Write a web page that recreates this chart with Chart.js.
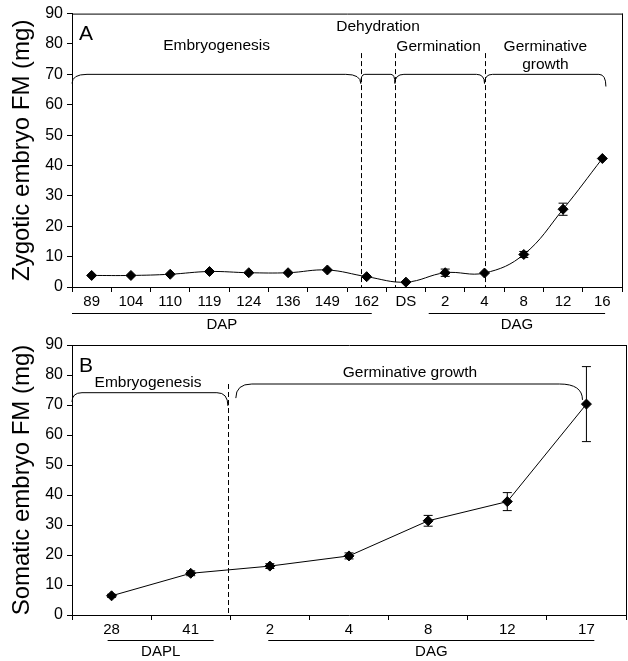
<!DOCTYPE html>
<html>
<head>
<meta charset="utf-8">
<script src="https://cdn.jsdelivr.net/npm/chart.js@4.4.0/dist/chart.umd.min.js"></script>
<style>
    html, body { margin: 0; padding: 0; overflow: hidden; background: #fff; width: 628px; height: 661px; }
    #wrapA { position: absolute; left: 0; top: 0; }
    #wrapB { position: absolute; left: 0; top: 330px; }
</style>
</head>
<body>
<div id="wrapA"><canvas id="chartA" width="628" height="330"></canvas></div>
<div id="wrapB"><canvas id="chartB" width="632" height="331"></canvas></div>
<script>
const FONT = "'Liberation Sans', Arial, sans-serif"

// panel A - zygotic embryos
const labelsA = ['89', '104', '110', '119', '124', '136', '149', '162', 'DS', '2', '4', '8', '12', '16']
const massA = [3.8, 3.8, 4.2, 5.1, 4.7, 4.7, 5.6, 3.4, 1.6, 4.7, 4.6, 10.7, 25.6, 42.3]
const errA = [0, 0, 0, 0, 0, 0, 0, 0, 0, 1.2, 0, 1.0, 2.0, 0]

// panel B - somatic embryos
const labelsB = ['28', '41', '2', '4', '8', '12', '17']
const massB = [6.4, 13.9, 16.3, 19.7, 31.4, 37.8, 70.3]
const errB = [0.5, 0.8, 0.8, 1.0, 1.8, 3.0, 12.5]

const yTicks = [0, 10, 20, 30, 40, 50, 60, 70, 80, 90]

// phase annotations, x in category units (0 = first category), y in mg
const dividersA = [6.85, 7.72, 10]
const dividersB = [1.47]

const bracesA = [
    { from: -0.5, to: 6.85, level: 70, left: 67, right: 67, bend: [15, 15] },
    { from: 6.85, to: 7.72, level: 70, left: 67, right: 67, bend: [4, 4] },
    { from: 7.72, to: 10, level: 70, left: 67, right: 67, bend: [9, 8] },
    { from: 10, to: 13.09, level: 70, left: 67, right: 66, bend: [8, 7] }
]
const bracesB = [
    { from: -0.5, to: 1.47, level: 74.1, left: 71, right: 69.7, bend: [10, 11] },
    { from: 1.57, to: 5.95, level: 77, left: 72.3, right: 71.7, bend: [16, 23] }
]

const phaseTextA = [
    { text: 'Embryogenesis', x: 3.18, y: 79.3 },
    { text: 'Dehydration', x: 7.29, y: 85.8 },
    { text: 'Germination', x: 8.83, y: 79 },
    { text: 'Germinative', x: 11.55, y: 79 },
    { text: 'growth', x: 11.55, y: 73.1 }
]
const phaseTextB = [
    { text: 'Embryogenesis', x: 0.46, y: 77.4 },
    { text: 'Germinative growth', x: 3.77, y: 80.7 }
]

const groupsA = [
    { text: 'DAP', from: -0.5, to: 7.13 },
    { text: 'DAG', from: 8.58, to: 13.07 }
]
const groupsB = [
    { text: 'DAPL', from: -0.05, to: 1.29 },
    { text: 'DAG', from: 1.98, to: 6.1 }
]


function panelPlugin(cfg) {
    return {
        id: 'panel' + cfg.letter,
        beforeDatasetsDraw(chart) {
            const { ctx, chartArea: a, scales: { x, y } } = chart
            ctx.save()
            ctx.strokeStyle = '#000'
            ctx.lineWidth = 1

            // top and right frame
            ctx.beginPath()
            ctx.moveTo(a.left, a.top + 0.5)
            ctx.lineTo(a.right + 1, a.top + 0.5)
            ctx.moveTo(a.right + 0.5, a.top)
            ctx.lineTo(a.right + 0.5, a.bottom)
            ctx.stroke()

            // dashed phase dividers
            ctx.setLineDash([5, 3])
            cfg.dividers.forEach(d => {
                const px = Math.round(x.getPixelForValue(d)) + 0.5
                ctx.beginPath()
                ctx.moveTo(px, y.getPixelForValue(77))
                ctx.lineTo(px, a.bottom)
                ctx.stroke()
            })
            ctx.setLineDash([])

            // braces over the phases
            cfg.braces.forEach(b => {
                const x0 = x.getPixelForValue(b.from), x1 = x.getPixelForValue(b.to)
                const yf = y.getPixelForValue(b.level)
                ctx.beginPath()
                ctx.moveTo(x0, y.getPixelForValue(b.left))
                ctx.quadraticCurveTo(x0, yf, x0 + b.bend[0], yf)
                ctx.lineTo(x1 - b.bend[1], yf)
                ctx.quadraticCurveTo(x1, yf, x1, y.getPixelForValue(b.right))
                ctx.stroke()
            })

            // error bars
            const meta = chart.getDatasetMeta(0)
            const vals = chart.data.datasets[0].data
            cfg.errors.forEach((e, i) => {
                if (!e) return
                const px = meta.data[i].x
                const t = y.getPixelForValue(vals[i] + e), btm = y.getPixelForValue(vals[i] - e)
                ctx.beginPath()
                ctx.moveTo(px, t); ctx.lineTo(px, btm)
                ctx.moveTo(px - 4.5, t); ctx.lineTo(px + 4.5, t)
                ctx.moveTo(px - 4.5, btm); ctx.lineTo(px + 4.5, btm)
                ctx.stroke()
            })
            ctx.restore()
        },
        afterDraw(chart) {
            const { ctx, chartArea: a, scales: { x, y } } = chart
            ctx.save()
            ctx.fillStyle = '#000'
            ctx.strokeStyle = '#000'
            ctx.lineWidth = 1
            ctx.textAlign = 'center'
            ctx.textBaseline = 'middle'

            ctx.font = '15.5px ' + FONT
            cfg.texts.forEach(t => ctx.fillText(t.text, x.getPixelForValue(t.x), y.getPixelForValue(t.y)))

            // group lines and labels under the axis
            ctx.font = '15px ' + FONT
            cfg.groups.forEach(g => {
                const x0 = x.getPixelForValue(g.from), x1 = x.getPixelForValue(g.to)
                const ly = Math.round(a.bottom + cfg.groupLine) + 0.5
                ctx.beginPath()
                ctx.moveTo(x0, ly); ctx.lineTo(x1, ly)
                ctx.stroke()
                ctx.fillText(g.text, (x0 + x1) / 2, a.bottom + cfg.groupLine + 12)
            })

            // panel letter
            ctx.textAlign = 'left'
            ctx.font = '21px ' + FONT
            ctx.fillText(cfg.letter, a.left + 7, a.top + 21)

            // y axis title
            ctx.font = '24px ' + FONT
            ctx.textAlign = 'center'
            ctx.textBaseline = 'alphabetic'
            ctx.translate(29, (a.top + a.bottom) / 2)
            ctx.rotate(-Math.PI / 2)
            ctx.fillText(cfg.title, 0, 0)
            ctx.restore()
        }
    }
}

function makeChart(id, labels, data, tension, xHeight, pad, plugin) {
    return new Chart(document.getElementById(id), {
        type: 'line',
        data: {
            labels: labels,
            datasets: [{
                data: data,
                borderColor: '#000',
                borderWidth: 1,
                tension: tension,
                pointStyle: 'rectRot',
                pointRadius: 5,
                pointBackgroundColor: '#000',
                pointBorderColor: '#000',
                pointBorderWidth: 1
            }]
        },
        options: {
            responsive: false,
            animation: false,
            layout: { padding: pad },
            plugins: { legend: { display: false }, tooltip: { enabled: false } },
            scales: {
                x: {
                    offset: true,
                    grid: { drawOnChartArea: false, tickLength: 5, color: '#000', offset: true },
                    border: { color: '#000', width: 1 },
                    ticks: { color: '#000', font: { family: FONT, size: 15 }, padding: 1, maxRotation: 0, autoSkip: false },
                    afterFit: s => { s.height = xHeight }
                },
                y: {
                    min: 0,
                    max: 90,
                    afterBuildTicks: s => { s.ticks = yTicks.map(v => ({ value: v })) },
                    grid: { drawOnChartArea: false, tickLength: 5, color: '#000' },
                    border: { color: '#000', width: 1 },
                    ticks: { color: '#000', font: { family: FONT, size: 16 }, padding: 4 },
                    afterFit: s => { s.width = 72 }
                }
            }
        },
        plugins: [plugin]
    })
}

makeChart('chartA', labelsA, massA, 0.4, 43, { top: 9, right: 4, left: 0, bottom: 0 }, panelPlugin({
    letter: 'A', title: 'Zygotic embryo FM (mg)',
    dividers: dividersA, braces: bracesA, texts: phaseTextA, groups: groupsA, errors: errA, groupLine: 26
}))

makeChart('chartB', labelsB, massB, 0, 46, { top: 15, right: 2, left: 0, bottom: 0 }, panelPlugin({
    letter: 'B', title: 'Somatic embryo FM (mg)',
    dividers: dividersB, braces: bracesB, texts: phaseTextB, groups: groupsB, errors: errB, groupLine: 25
}))
</script>
</body>
</html>
